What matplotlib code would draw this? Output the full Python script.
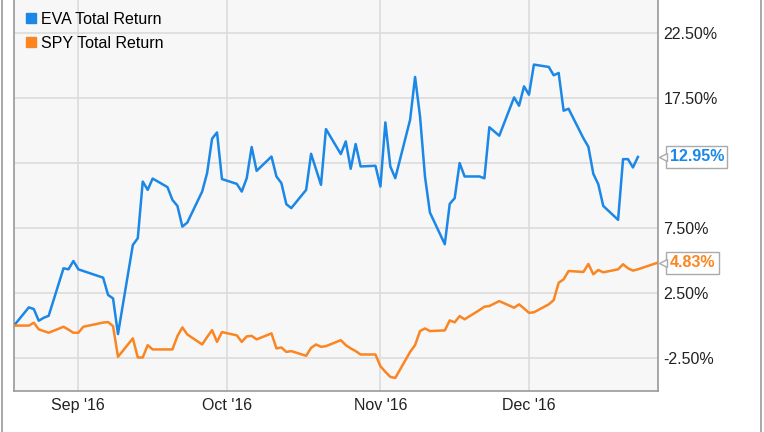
import numpy as np
import pandas as pd
import matplotlib
matplotlib.use("Agg")
import matplotlib.pyplot as plt
import matplotlib.dates as mdates
from matplotlib.lines import Line2D

plt.rcParams["font.family"] = ["Liberation Sans", "DejaVu Sans"]

BLUE = "#1b87e6"
ORANGE = "#fb8521"

eva_dates = pd.to_datetime([
    "2016-08-19", "2016-08-22", "2016-08-23", "2016-08-24", "2016-08-25", "2016-08-26",
    "2016-08-29", "2016-08-30", "2016-08-31", "2016-09-01", "2016-09-02",
    "2016-09-06", "2016-09-07", "2016-09-08", "2016-09-09",
    "2016-09-12", "2016-09-13", "2016-09-14", "2016-09-15", "2016-09-16",
    "2016-09-19", "2016-09-20", "2016-09-21", "2016-09-22", "2016-09-23",
    "2016-09-26", "2016-09-27", "2016-09-28", "2016-09-29", "2016-09-30",
    "2016-10-03", "2016-10-04", "2016-10-05", "2016-10-06", "2016-10-07",
    "2016-10-10", "2016-10-11", "2016-10-12", "2016-10-13", "2016-10-14",
    "2016-10-17", "2016-10-18", "2016-10-19", "2016-10-20", "2016-10-21",
    "2016-10-24", "2016-10-25", "2016-10-26", "2016-10-27", "2016-10-28",
    "2016-10-31", "2016-11-01", "2016-11-02", "2016-11-03", "2016-11-04",
    "2016-11-07", "2016-11-08", "2016-11-09", "2016-11-10", "2016-11-11",
    "2016-11-14", "2016-11-15", "2016-11-16", "2016-11-17", "2016-11-18",
    "2016-11-21", "2016-11-22", "2016-11-23", "2016-11-25",
    "2016-11-28", "2016-11-29", "2016-11-30", "2016-12-01", "2016-12-02",
    "2016-12-05", "2016-12-06", "2016-12-07", "2016-12-08", "2016-12-09",
    "2016-12-12", "2016-12-13", "2016-12-14", "2016-12-15", "2016-12-16",
    "2016-12-19", "2016-12-20", "2016-12-21", "2016-12-22", "2016-12-23",
])
eva_values = [
    0.0, 1.40, 1.27, 0.37, 0.60, 0.75,
    4.40, 4.32, 4.96, 4.32, 4.19,
    3.68, 2.35, 2.09, -0.65,
    6.19, 6.71, 11.06, 10.42, 11.29,
    10.63, 9.65, 9.19, 7.60, 7.91,
    10.29, 11.71, 14.35, 14.83, 11.25,
    10.88, 10.29, 11.32, 13.71, 11.88,
    12.98, 11.45, 10.94, 9.32, 9.02,
    10.42, 13.19, 12.00, 10.81, 15.09,
    13.17, 14.14, 12.04, 13.94, 12.22,
    12.27, 10.68, 15.60, 12.22, 11.32,
    15.81, 19.09, 16.06, 11.45, 8.68,
    6.25, 9.35, 9.78, 12.48, 11.45,
    11.45, 11.31, 15.23, 14.58,
    17.52, 16.88, 18.37, 17.73, 20.04,
    19.86, 19.22, 19.40, 16.50, 16.65,
    14.38, 13.73, 11.65, 10.86, 9.19,
    8.12, 12.78, 12.78, 12.14, 12.95,
]

spy_dates = eva_dates.append(pd.to_datetime(["2016-12-27"]))
spy_values = [
    0.0, 0.0, 0.22, -0.29, -0.42, -0.55,
    -0.09, -0.31, -0.55, -0.55, -0.09,
    0.23, 0.27, -0.04, -2.40,
    -0.98, -2.45, -2.45, -1.50, -1.83,
    -1.83, -1.83, -0.81, -0.14, -0.68,
    -1.45, -0.88, -0.35, -1.25, -0.50,
    -0.75, -1.25, -0.83, -0.79, -1.06,
    -0.60, -1.75, -1.68, -2.02, -1.96,
    -2.32, -1.71, -1.45, -1.63, -1.58,
    -1.12, -1.50, -1.75, -1.96, -2.22,
    -2.22, -3.12, -3.55, -3.94, -4.02,
    -2.02, -1.50, -0.42, -0.22, -0.42,
    -0.37, 0.40, 0.25, 0.73, 0.48,
    1.19, 1.45, 1.50, 1.88,
    1.37, 1.63, 1.32, 0.98, 1.02,
    1.63, 1.96, 3.29, 3.55, 4.19,
    4.12, 4.73, 3.94, 4.27, 4.09,
    4.32, 4.71, 4.40, 4.22, 4.32, 4.83,
]

y_ticks = [-2.5, 2.5, 7.5, 12.5, 17.5, 22.5]
# the 12.50% label sits under the EVA end-value box in the original
y_labels = ["-2.50%", "2.50%", "7.50%", "", "17.50%", "22.50%"]

fig = plt.figure(figsize=(7.64, 4.32), dpi=100)
ax = fig.add_axes([14 / 764, 41.3 / 432, 643.7 / 764, 390.7 / 432])
ax.set_facecolor("#f7f7f7")

ax.plot(eva_dates, eva_values, color=BLUE, lw=1.8, zorder=3)
ax.plot(spy_dates, spy_values, color=ORANGE, lw=1.8, zorder=3)

ax.set_xlim(pd.Timestamp("2016-08-19"), pd.Timestamp("2016-12-27"))
ax.set_ylim(-5, 25)
ax.xaxis.set_major_locator(mdates.MonthLocator())
ax.xaxis.set_major_formatter(mdates.DateFormatter("%b '%y"))
ax.set_yticks(y_ticks)
ax.set_yticklabels(y_labels)
ax.yaxis.tick_right()
ax.tick_params(length=0, labelsize=11.5, colors="#222222")
ax.tick_params(axis="y", pad=4)
ax.tick_params(axis="x", pad=5)
ax.grid(True, color="#dcdcdc", lw=1.2)
ax.set_axisbelow(True)
for side in ["left", "bottom", "right"]:
    ax.spines[side].set_color("#999999")
    ax.spines[side].set_linewidth(1.2)
ax.spines["top"].set_visible(False)

# end-value labels
for vals, col in [(eva_values, BLUE), (spy_values, ORANGE)]:
    last = vals[-1]
    ax.annotate(f"{last:.2f}%", xy=(1, last), xycoords=("axes fraction", "data"),
                xytext=(8.5, 0), textcoords="offset points", ha="left", va="center",
                fontsize=11.5, fontweight="bold", color=col, zorder=10,
                bbox=dict(boxstyle="square,pad=0.22", fc="white", ec="#aaaaaa", lw=1))
    ax.plot([1.0085], [last], transform=ax.get_yaxis_transform(), marker="<",
            ms=6, mfc="white", mec="#aaaaaa", mew=1, clip_on=False, zorder=11)

handles = [Line2D([], [], marker="s", ls="", color=BLUE, ms=6.5),
           Line2D([], [], marker="s", ls="", color=ORANGE, ms=6.5)]
ax.legend(handles, ["EVA Total Return", "SPY Total Return"], loc="upper left",
          bbox_to_anchor=(0.0, 1.0), frameon=False, fontsize=11.5,
          handlelength=0.6, handletextpad=0.35, labelspacing=0.55, borderaxespad=0.35)

# outer frame lines
fig.add_artist(Line2D([1.5 / 764, 1.5 / 764], [0, 1], color="#999999", lw=1.2))
fig.add_artist(Line2D([760.5 / 764, 760.5 / 764], [0, 1], color="#999999", lw=1.2))

fig.savefig("out.png", dpi=100)
